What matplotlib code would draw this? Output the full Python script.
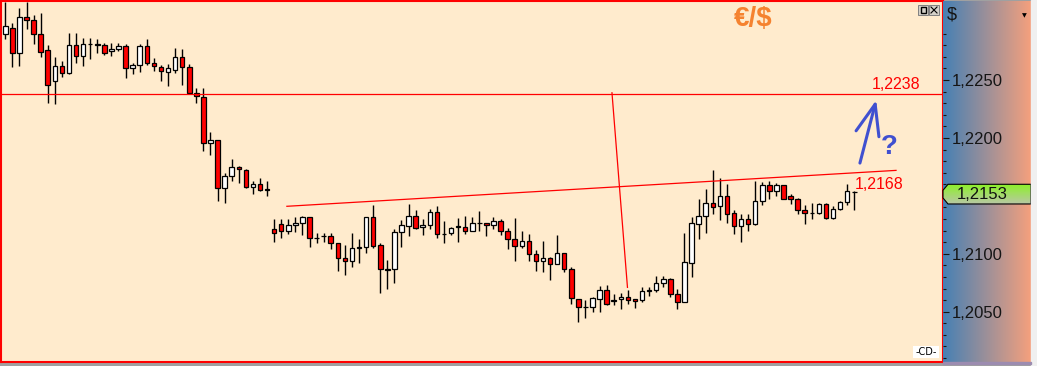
import numpy as np
import matplotlib
matplotlib.use("Agg")
import matplotlib.pyplot as plt
from matplotlib.patches import Rectangle, Polygon
from matplotlib.lines import Line2D
from matplotlib.ticker import FixedLocator, FuncFormatter

plt.rcParams['font.family'] = ['Liberation Sans', 'DejaVu Sans']

# EUR/USD candles (open, high, low, close)
opens = [1.2290, 1.2295, 1.2273, 1.2304, 1.2302, 1.2290, 1.2276, 1.2249, 1.2262, 1.2256,
         1.2280, 1.2271, 1.2281, 1.2281, 1.2280, 1.2275, 1.2277, 1.2279, 1.2260, 1.2263,
         1.2279, 1.2265, 1.2261, 1.2257, 1.2259, 1.2270, 1.2261, 1.2239, 1.2235, 1.2196,
         1.2198, 1.2157, 1.2167, 1.2175, 1.2172, 1.2158, 1.2160, 1.2156, 1.2121, 1.2126,
         1.2120, 1.2125, 1.2127, 1.2132, 1.2114, 1.2115, 1.2115, 1.2109, 1.2096, 1.2094,
         1.2105, 1.2106, 1.2132, 1.2108, 1.2087, 1.2087, 1.2119, 1.2124, 1.2133, 1.2123,
         1.2125, 1.2136, 1.2117, 1.2118, 1.2123, 1.2123, 1.2120, 1.2127, 1.2127, 1.2125,
         1.2128, 1.2120, 1.2113, 1.2107, 1.2111, 1.2100, 1.2094, 1.2096, 1.2091, 1.2101,
         1.2087, 1.2061, 1.2054, 1.2054, 1.2061, 1.2069, 1.2059, 1.2061, 1.2063, 1.2061,
         1.2060, 1.2068, 1.2069, 1.2075, 1.2078, 1.2065, 1.2058, 1.2092, 1.2126, 1.2133,
         1.2144, 1.2141, 1.2150, 1.2135, 1.2124, 1.2130, 1.2126, 1.2146, 1.2159, 1.2154,
         1.2159, 1.2150, 1.2147, 1.2138, 1.2135, 1.2135, 1.2143, 1.2131, 1.2139, 1.2145,
         1.2153]
highs = [1.2317, 1.2299, 1.2312, 1.2317, 1.2306, 1.2308, 1.2280, 1.2270, 1.2266, 1.2291,
         1.2291, 1.2286, 1.2286, 1.2285, 1.2282, 1.2282, 1.2282, 1.2281, 1.2265, 1.2281,
         1.2285, 1.2269, 1.2263, 1.2264, 1.2278, 1.2277, 1.2264, 1.2243, 1.2243, 1.2205,
         1.2198, 1.2170, 1.2182, 1.2176, 1.2173, 1.2163, 1.2165, 1.2163, 1.2130, 1.2130,
         1.2130, 1.2132, 1.2133, 1.2132, 1.2118, 1.2118, 1.2118, 1.2109, 1.2108, 1.2118,
         1.2113, 1.2132, 1.2142, 1.2109, 1.2095, 1.2121, 1.2129, 1.2143, 1.2138, 1.2130,
         1.2139, 1.2141, 1.2128, 1.2123, 1.2131, 1.2133, 1.2132, 1.2137, 1.2127, 1.2132,
         1.2130, 1.2122, 1.2131, 1.2120, 1.2117, 1.2103, 1.2111, 1.2097, 1.2116, 1.2101,
         1.2089, 1.2061, 1.2060, 1.2063, 1.2072, 1.2073, 1.2065, 1.2066, 1.2069, 1.2061,
         1.2071, 1.2071, 1.2081, 1.2081, 1.2079, 1.2070, 1.2118, 1.2132, 1.2147, 1.2156,
         1.2172, 1.2165, 1.2160, 1.2138, 1.2134, 1.2134, 1.2163, 1.2162, 1.2163, 1.2161,
         1.2159, 1.2152, 1.2148, 1.2142, 1.2144, 1.2144, 1.2144, 1.2141, 1.2146, 1.2160,
         1.2154]
lows = [1.2285, 1.2261, 1.2262, 1.2294, 1.2281, 1.2270, 1.2230, 1.2229, 1.2253, 1.2255,
        1.2265, 1.2262, 1.2268, 1.2273, 1.2272, 1.2271, 1.2275, 1.2252, 1.2255, 1.2257,
        1.2263, 1.2258, 1.2249, 1.2245, 1.2256, 1.2246, 1.2239, 1.2230, 1.2189, 1.2185,
        1.2146, 1.2144, 1.2163, 1.2161, 1.2157, 1.2152, 1.2154, 1.2150, 1.2110, 1.2114,
        1.2117, 1.2119, 1.2116, 1.2106, 1.2109, 1.2110, 1.2104, 1.2085, 1.2082, 1.2089,
        1.2092, 1.2101, 1.2105, 1.2066, 1.2070, 1.2075, 1.2106, 1.2115, 1.2121, 1.2116,
        1.2121, 1.2114, 1.2109, 1.2116, 1.2110, 1.2117, 1.2120, 1.2120, 1.2115, 1.2121,
        1.2116, 1.2104, 1.2094, 1.2105, 1.2094, 1.2085, 1.2084, 1.2077, 1.2091, 1.2084,
        1.2057, 1.2041, 1.2045, 1.2050, 1.2050, 1.2056, 1.2056, 1.2052, 1.2057, 1.2053,
        1.2058, 1.2064, 1.2067, 1.2071, 1.2063, 1.2052, 1.2058, 1.2080, 1.2113, 1.2118,
        1.2134, 1.2129, 1.2127, 1.2117, 1.2110, 1.2120, 1.2125, 1.2142, 1.2147, 1.2150,
        1.2147, 1.2143, 1.2134, 1.2126, 1.2130, 1.2134, 1.2130, 1.2130, 1.2138, 1.2142,
        1.2138]
closes = [1.2297, 1.2273, 1.2304, 1.2302, 1.2290, 1.2274, 1.2246, 1.2262, 1.2256, 1.2280,
          1.2271, 1.2281, 1.2281, 1.2280, 1.2273, 1.2277, 1.2279, 1.2260, 1.2263, 1.2279,
          1.2265, 1.2262, 1.2258, 1.2260, 1.2270, 1.2261, 1.2239, 1.2236, 1.2196, 1.2198,
          1.2157, 1.2167, 1.2175, 1.2173, 1.2158, 1.2160, 1.2155, 1.2155, 1.2118, 1.2120,
          1.2125, 1.2127, 1.2132, 1.2114, 1.2114, 1.2115, 1.2109, 1.2096, 1.2094, 1.2105,
          1.2106, 1.2132, 1.2107, 1.2087, 1.2086, 1.2119, 1.2125, 1.2133, 1.2122, 1.2125,
          1.2136, 1.2117, 1.2117, 1.2122, 1.2124, 1.2120, 1.2127, 1.2127, 1.2125, 1.2128,
          1.2120, 1.2113, 1.2107, 1.2111, 1.2100, 1.2094, 1.2096, 1.2091, 1.2101, 1.2087,
          1.2062, 1.2054, 1.2054, 1.2062, 1.2069, 1.2057, 1.2060, 1.2063, 1.2060, 1.2059,
          1.2068, 1.2069, 1.2075, 1.2078, 1.2065, 1.2058, 1.2093, 1.2127, 1.2133, 1.2144,
          1.2140, 1.2150, 1.2134, 1.2124, 1.2130, 1.2126, 1.2146, 1.2159, 1.2154, 1.2159,
          1.2147, 1.2147, 1.2138, 1.2135, 1.2135, 1.2143, 1.2131, 1.2139, 1.2145, 1.2154,
          1.2153]

# drawings on the chart
level_price = 1.2238
neck_x = [39.8, 125.9]
neck_y = [1.2141, 1.2172]
measure_x = [85.75, 87.94]
measure_y = [1.2239, 1.2071]
arrow_x = [120.7, 123.2]
arrow_y = [1.2176, 1.2235]
last_price = 1.2153
major_ticks = [1.2050, 1.2100, 1.2150, 1.2200, 1.2250]
minor_ticks = [round(1.2010 + 0.001 * i, 4) for i in range(29)]

W, H = 1037, 366
ylo, yhi = 1.20066, 1.23182


def rect(x0, y0, x1, y1):
    # pixel box -> figure fraction
    return [x0 / W, 1 - y1 / H, (x1 - x0) / W, (y1 - y0) / H]


def price_fmt(v, p):
    # the 1,2150 label sits under the last-price marker
    if abs(v - 1.2150) < 1e-6:
        return ''
    return f"{v:.4f}".replace('.', ',')


fig = plt.figure(figsize=(W / 100, H / 100), dpi=100, facecolor='#A0A0A0')
fig.patches.append(Rectangle((1031 / W, 0), 6 / W, 1, transform=fig.transFigure,
                             color='#F0F0F0', zorder=0))

# main price pane
ax = fig.add_axes(rect(1, 1, 943, 362), facecolor='#FFEBCD')
x = np.arange(len(opens))
o = np.array(opens)
h = np.array(highs)
l = np.array(lows)
c = np.array(closes)
colors = np.where(c >= o, 'white', '#FF0000')
ax.vlines(x, l, h, color='black', lw=1.0, zorder=2)
ax.bar(x, np.abs(c - o), bottom=np.minimum(o, c), width=0.64, color=colors,
       edgecolor='black', linewidth=0.9, zorder=3)

ax.axhline(level_price, color='red', lw=0.9, zorder=4)
ax.plot(neck_x, neck_y, color='red', lw=0.9, zorder=4)
ax.plot(measure_x, measure_y, color='red', lw=0.9, zorder=4)
ax.annotate('', xy=(arrow_x[1], arrow_y[1]), xytext=(arrow_x[0], arrow_y[0]),
            arrowprops=dict(arrowstyle='->,head_length=2.2,head_width=0.85',
                            color='#4050D0', lw=2.2), zorder=5)
ax.text(124.9, 1.2192, '?', color='#4050D0', fontsize=20, fontweight='bold',
        ha='center', va='center')
ax.text(122.5, 1.22465, '1,2238', color='red', fontsize=11.5, ha='left', va='center')
ax.text(120.1, 1.21602, '1,2168', color='red', fontsize=11.5, ha='left', va='center')

ax.set_xlim(-0.608, 132.54)
ax.set_ylim(ylo, yhi)
ax.set_xticks([])
ax.set_yticks([])
for s in ax.spines.values():
    s.set_color('red')
    s.set_linewidth(1.5)

# price scale with gradient
pax = fig.add_axes(rect(943, 1, 1031, 362))
t = np.linspace(0, 1, 256)[:, None]
left = np.array([70, 128, 180]) / 255
right = np.array([245, 160, 125]) / 255
grad = (left * (1 - t) + right * t)[None, :, :]
pax.imshow(grad, extent=[943, 1031, ylo, yhi], aspect='auto', zorder=0)
for s in pax.spines.values():
    s.set_visible(False)
pax.set_xticks([])
pax.yaxis.set_major_locator(FixedLocator(major_ticks))
pax.yaxis.set_minor_locator(FixedLocator([m for m in minor_ticks if m not in major_ticks]))
pax.yaxis.set_major_formatter(FuncFormatter(price_fmt))
pax.tick_params(axis='y', which='major', direction='in', length=4, width=0.8,
                pad=-6.5, labelsize=12, colors='#151515')
pax.tick_params(axis='y', which='minor', direction='in', length=2, width=0.8,
                colors='#151515')
plt.setp(pax.get_yticklabels(), ha='left')

# last price marker
center = last_price - 0.00015
hh = 0.00085
ch = 0.00052
poly = Polygon([(948, center + hh), (943, center + hh - ch), (943, center - hh + ch),
                (948, center - hh), (1031, center - hh), (1031, center + hh)],
               closed=True, facecolor='none', edgecolor='black', lw=0.8, zorder=4,
               clip_on=False)
pax.add_patch(poly)
gt = np.linspace(0, 1, 64)[:, None]
gtop = np.array([140, 240, 40]) / 255
gbot = np.array([185, 200, 165]) / 255
ggrad = (gtop * (1 - gt) + gbot * gt)[:, None, :]
gim = pax.imshow(ggrad, extent=[943, 1031, center - hh, center + hh], aspect='auto',
                 zorder=3.5)
gim.set_clip_path(poly)
pax.text(957, center, '1,2153', fontsize=12, ha='left', va='center', color='#101010',
         zorder=5)
pax.set_xlim(943, 1031)
pax.set_ylim(ylo, yhi)

# scale header and window widgets
fig.text(753 / W, 1 - 19 / H, '€/$', color='#F5822F', fontsize=20, fontweight='bold',
         ha='center', va='center')
fig.text(947 / W, 1 - 15 / H, '$', fontsize=13, ha='left', va='center', color='#151515')
fig.text(1024 / W, 1 - 16 / H, '▼', fontsize=4.5, ha='center', va='center',
         family='DejaVu Sans', color='black')
for bx in (918, 929):
    fig.patches.append(Rectangle((bx / W, 1 - 15 / H), 10 / W, 10 / H,
                                 transform=fig.transFigure, facecolor='#D4D0C8',
                                 edgecolor='#808080', lw=0.7, zorder=6))
fig.patches.append(Rectangle((920.5 / W, 1 - 12.5 / H), 5 / W, 5 / H,
                             transform=fig.transFigure, facecolor='none',
                             edgecolor='black', lw=1.0, zorder=7))
fig.lines.append(Line2D([931 / W, 937 / W], [1 - 7 / H, 1 - 13 / H],
                        transform=fig.transFigure, color='black', lw=0.8, zorder=7))
fig.lines.append(Line2D([931 / W, 937 / W], [1 - 13 / H, 1 - 7 / H],
                        transform=fig.transFigure, color='black', lw=0.8, zorder=7))
fig.patches.append(Rectangle((913 / W, 1 - 358 / H), 26 / W, 12 / H,
                             transform=fig.transFigure, facecolor='white',
                             edgecolor='none', zorder=6))
fig.text(926 / W, 1 - 352 / H, '-CD-', fontsize=7, ha='center', va='center',
         family='DejaVu Sans', color='black', zorder=7)
fig.patches.append(Rectangle((943 / W, 1 - 364 / H), 88 / W, 2 / H,
                             transform=fig.transFigure, color='#9C8CB0', zorder=6))

fig.savefig('out.png', dpi=100, facecolor=fig.get_facecolor())
